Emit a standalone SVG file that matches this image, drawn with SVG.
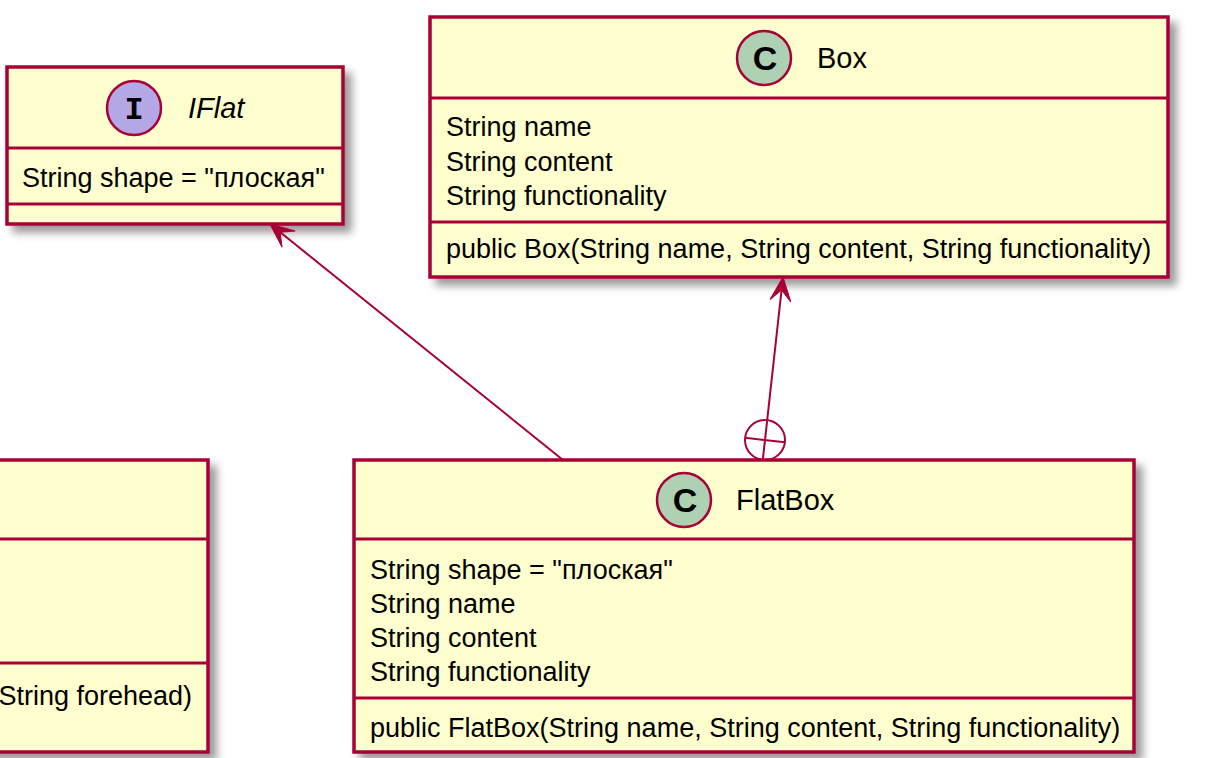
<svg xmlns="http://www.w3.org/2000/svg" width="1220" height="758" viewBox="0 0 1220 758">
<style>
.box{fill:#FEFECE;stroke:#A80036;stroke-width:3.5}
.div{stroke:#A80036;stroke-width:3}
.t{font-family:"Liberation Sans",Arial,sans-serif;font-size:27px;fill:#000}
.n{font-family:"Liberation Sans",Arial,sans-serif;font-size:29px;fill:#000}
.ci{fill:#ADD1B2;stroke:#A80036;stroke-width:2.5}
.ii{fill:#B4A7E5;stroke:#A80036;stroke-width:2.5}
.cl{font-family:"Liberation Sans",Arial,sans-serif;font-weight:bold;font-size:34px;fill:#000;text-anchor:middle}
.il{font-family:"Liberation Mono","Courier New",monospace;font-weight:bold;font-size:32px;fill:#000;text-anchor:middle}
.edge{stroke:#A80036;stroke-width:2;fill:none}
</style>
<defs>
<filter id="sh" x="-10%" y="-10%" width="130%" height="130%">
<feGaussianBlur in="SourceAlpha" stdDeviation="4"/>
<feOffset dx="7" dy="7" result="b"/>
<feComponentTransfer><feFuncA type="linear" slope="0.4"/></feComponentTransfer>
<feMerge><feMergeNode/><feMergeNode in="SourceGraphic"/></feMerge>
</filter>
<marker id="arr" markerUnits="userSpaceOnUse" viewBox="-26 -13 28 26" refX="0" refY="0" markerWidth="28" markerHeight="26" orient="auto">
<path d="M0,0 L-24,-10.5 L-13,0 L-24,10.5 Z" fill="#A80036" stroke="#A80036" stroke-width="1"/>
</marker>
</defs>
<rect width="1220" height="758" fill="#FFFFFF"/>

<g id="node-left">
<rect class="box" x="-20" y="460" width="228" height="292" filter="url(#sh)"/>
<line class="div" x1="-20" y1="539" x2="208" y2="539"/>
<line class="div" x1="-20" y1="663" x2="208" y2="663"/>
<text class="t" x="192" y="705" text-anchor="end">String forehead)</text>
</g>

<g id="node-iflat">
<rect class="box" x="7" y="67" width="336" height="157" filter="url(#sh)"/>
<line class="div" x1="7" y1="148" x2="343" y2="148"/>
<line class="div" x1="7" y1="204" x2="343" y2="204"/>
<circle class="ii" cx="134" cy="108" r="27"/>
<text class="il" x="134" y="119">I</text>
<text class="n" x="188" y="118" font-style="italic">IFlat</text>
<text class="t" x="22" y="187">String shape = "плоская"</text>
</g>

<g id="node-box">
<rect class="box" x="430" y="17" width="738" height="260" filter="url(#sh)"/>
<line class="div" x1="430" y1="98" x2="1168" y2="98"/>
<line class="div" x1="430" y1="222" x2="1168" y2="222"/>
<circle class="ci" cx="764" cy="58" r="27"/>
<text class="cl" x="765" y="70">C</text>
<text class="n" x="817" y="68">Box</text>
<text class="t" x="446" y="136">String name</text>
<text class="t" x="446" y="171">String content</text>
<text class="t" x="446" y="205">String functionality</text>
<text class="t" x="446" y="258">public Box(String name, String content, String functionality)</text>
</g>

<g id="node-flatbox">
<rect class="box" x="354" y="460" width="780" height="292" filter="url(#sh)"/>
<line class="div" x1="354" y1="539" x2="1134" y2="539"/>
<line class="div" x1="354" y1="698" x2="1134" y2="698"/>
<circle class="ci" cx="684" cy="500" r="27"/>
<text class="cl" x="685" y="512">C</text>
<text class="n" x="736" y="510">FlatBox</text>
<text class="t" x="370" y="579">String shape = "плоская"</text>
<text class="t" x="370" y="613">String name</text>
<text class="t" x="370" y="647">String content</text>
<text class="t" x="370" y="681">String functionality</text>
<text class="t" x="370" y="737">public FlatBox(String name, String content, String functionality)</text>
</g>

<g id="connectors">
<line class="edge" x1="563" y1="460" x2="270" y2="224" marker-end="url(#arr)"/>
<line class="edge" x1="767.2" y1="420.1" x2="783" y2="277" marker-end="url(#arr)"/>
<circle class="edge" cx="765" cy="440" r="20"/>
<line class="edge" x1="762.8" y1="459.9" x2="767.2" y2="420.1"/>
<line class="edge" x1="745.1" y1="437.8" x2="784.9" y2="442.2"/>
</g>
</svg>
